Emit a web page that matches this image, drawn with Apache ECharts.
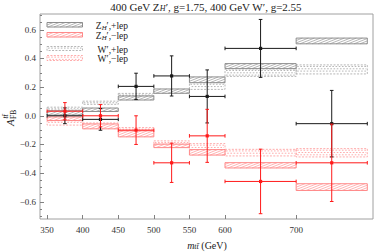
<!DOCTYPE html>
<html><head><meta charset="utf-8">
<script src="https://cdn.jsdelivr.net/npm/echarts@6/dist/echarts.min.js"></script>
<style>html,body{margin:0;padding:0;background:#fff}#c{width:374px;height:252px}</style>
</head><body><div id="c"></div>
<script>
// ---- data ----
const binLow    = [350, 400, 450, 500, 550, 600, 700];
const binHigh   = [400, 450, 500, 550, 600, 700, 800];
const binCenter = [375, 425, 475, 525, 575, 650, 750];

const zPlusLow   = [0.005, 0.030, 0.110, 0.157, 0.231, 0.329, 0.502];
const zPlusHigh  = [0.035, 0.054, 0.138, 0.187, 0.271, 0.364, 0.542];
const zMinusLow  = [-0.033, -0.091, -0.147, -0.222, -0.274, -0.364, -0.521];
const zMinusHigh = [-0.008, -0.057, -0.105, -0.198, -0.236, -0.327, -0.474];
const wPlusLow   = [0.040, 0.080, 0.138, 0.160, 0.184, 0.275, 0.292];
const wPlusHigh  = [0.060, 0.102, 0.156, 0.182, 0.231, 0.327, 0.355];
const wMinusLow  = [-0.065, -0.068, -0.105, -0.198, -0.236, -0.280, -0.287];
const wMinusHigh = [-0.035, -0.050, -0.082, -0.175, -0.194, -0.234, -0.229];

const blackValue = [0.000, -0.025, 0.205, 0.278, 0.135, 0.470, -0.055];
const blackError = [0.055, 0.076, 0.092, 0.140, 0.185, 0.202, 0.232];
const redValue   = [0.032, 0.000, -0.100, -0.328, -0.140, -0.458, -0.328];
const redError   = [0.060, 0.078, 0.100, 0.137, 0.185, 0.225, 0.270];

const xTickValues = [350, 400, 450, 500, 550, 600, 700];
const yTickValues = [-0.6, -0.4, -0.2, 0, 0.2, 0.4, 0.6];
const yMinorTickValues = [-0.7, -0.65, -0.55, -0.5, -0.45, -0.35, -0.3, -0.25, -0.15, -0.1, -0.05,
                          0.05, 0.1, 0.15, 0.25, 0.3, 0.35, 0.45, 0.5, 0.55, 0.65, 0.7];

// ---- styles ----
const SERIF = 'Liberation Serif';
const C = {
  zPlus: {stroke: '#808080', hatch: '#959595'},
  zMinus: {stroke: '#ff7a7a', hatch: '#ff9494'},
  wPlus: {stroke: '#a4a4a4'},
  wMinus: {stroke: '#ff9898'}
};

function hatchLines(x, y, w, h, step, slope, color) {
  const out = [];
  const start = Math.floor((x - h / slope) / step) * step;
  for (let x0 = start; x0 < x + w; x0 += step) {
    let ax = x0, ay = y + h, bx = x0 + h / slope, by = y;
    if (ax < x) { ay = ay - slope * (x - ax); ax = x; }
    if (bx > x + w) { by = by + slope * (bx - (x + w)); bx = x + w; }
    if (bx - ax > 0.3) out.push({type: 'line', shape: {x1: ax, y1: ay, x2: bx, y2: by},
      style: {stroke: color, lineWidth: 0.7}});
  }
  return out;
}
function dotFill(x, y, w, h, color) {
  const out = [];
  for (let yy = y + 1.6, r = 0; yy < y + h - 0.6; yy += 2.3, r++) {
    out.push({type: 'line', shape: {x1: x + 1, y1: yy, x2: x + w - 1, y2: yy},
      style: {stroke: color, lineWidth: 0.8, lineDash: [1.6, 1.6], lineDashOffset: r % 2 ? 1.6 : 0}});
  }
  return out;
}
function hatchBox(x, y, w, h, col) {
  return [{type: 'rect', shape: {x, y, width: w, height: h}, style: {fill: '#fff', stroke: col.stroke, lineWidth: 0.9}}]
    .concat(hatchLines(x, y, w, h, 6, 0.4, col.hatch));
}
function dotBox(x, y, w, h, col) {
  return [{type: 'rect', shape: {x, y, width: w, height: h},
    style: {fill: 'rgba(255,255,255,0)', stroke: col.stroke, lineWidth: 0.8, lineDash: [2, 1.4]}}]
    .concat(dotFill(x, y, w, h, col.stroke));
}

function bandSeries(name, low, high, kind, col) {
  return {
    type: 'custom', name, clip: true,
    data: binLow.map((lo, i) => [lo, binHigh[i], low[i], high[i]]),
    encode: {x: [0, 1], y: [2, 3]},
    renderItem: function (params, api) {
      const p0 = api.coord([api.value(0), api.value(3)]);
      const p1 = api.coord([api.value(1), api.value(2)]);
      const x = p0[0], y = p0[1], w = p1[0] - p0[0], h = p1[1] - p0[1];
      return {type: 'group', children: kind === 'hatch' ? hatchBox(x, y, w, h, col) : dotBox(x, y, w, h, col)};
    }
  };
}
function errorSeries(name, values, errors, color) {
  return {
    type: 'custom', name, clip: true,
    data: binCenter.map((c, i) => [c, values[i], binLow[i], binHigh[i], errors[i]]),
    encode: {x: 0, y: 1},
    renderItem: function (params, api) {
      const c = api.value(0), v = api.value(1), lo = api.value(2), hi = api.value(3), e = api.value(4);
      const pc = api.coord([c, v]);
      const pt = api.coord([c, v + e]);
      const pb = api.coord([c, v - e]);
      const pl = api.coord([lo, v]);
      const pr = api.coord([hi, v]);
      const st = {stroke: color, lineWidth: 1};
      const L = (x1, y1, x2, y2) => ({type: 'line', shape: {x1, y1, x2, y2}, style: st});
      return {type: 'group', children: [
        L(pc[0], pt[1], pc[0], pb[1]),
        L(pl[0], pc[1], pr[0], pc[1]),
        L(pc[0] - 1.8, pt[1], pc[0] + 1.8, pt[1]),
        L(pc[0] - 1.8, pb[1], pc[0] + 1.8, pb[1]),
        L(pl[0], pc[1] - 1.8, pl[0], pc[1] + 1.8),
        L(pr[0], pc[1] - 1.8, pr[0], pc[1] + 1.8),
        {type: 'rect', shape: {x: pc[0] - 1.6, y: pc[1] - 1.6, width: 3.2, height: 3.2}, style: {fill: color}}
      ]};
    }
  };
}

const richBase = {
  a: {fontFamily: SERIF, fontSize: 11, lineHeight: 11, padding: [0, 0, 2, 0], verticalAlign: 'top', fill: '#222'},
  i: {fontFamily: SERIF, fontSize: 11, fontStyle: 'italic', lineHeight: 11, padding: [0, 0, 2, 0], verticalAlign: 'top', fill: '#222'},
  sub: {fontFamily: SERIF, fontSize: 8, fontStyle: 'italic', lineHeight: 8, verticalAlign: 'bottom', fill: '#222'},
  isub: {fontFamily: SERIF, fontSize: 8, fontStyle: 'italic', lineHeight: 8, verticalAlign: 'bottom', fill: '#222'}
};
function legendRich(size) {
  return {
    a: {fontFamily: SERIF, fontSize: size, lineHeight: size, padding: [0, 0, 2, 0], verticalAlign: 'top', fill: '#222'},
    sub: {fontFamily: SERIF, fontSize: size * 0.72, fontStyle: 'italic', lineHeight: size * 0.72, verticalAlign: 'bottom', fill: '#222'}
  };
}

const legendItems = [
  {text: "{a|Z}{sub|H}{a|′,+lep}", y: 22.5, h: 4.5, kind: 'hatch', col: C.zPlus},
  {text: "{a|Z}{sub|H}{a|′,−lep}", y: 32.5, h: 4.5, kind: 'hatch', col: C.zMinus},
  {text: "{a|W′,+lep}", y: 46.5, h: 4, kind: 'dot', col: C.wPlus},
  {text: "{a|W′,−lep}", y: 55.5, h: 5, kind: 'dot', col: C.wMinus}
];
const graphics = [];
legendItems.forEach(it => {
  const kids = it.kind === 'hatch' ? hatchBox(47, it.y, 35.5, it.h, it.col) : dotBox(47, it.y, 35.5, it.h, it.col);
  graphics.push({type: 'group', z: 100, children: kids});
  graphics.push({type: 'text', z: 100, style: {x: 128, y: it.y + it.h / 2 + 1, text: it.text, rich: legendRich(9.5),
    align: 'right', verticalAlign: 'middle'}});
});
graphics.push({type: 'text', z: 100, style: {x: 206, y: 7, text: "{a|400 GeV Z}{sub|H}{a|′, g=1.75, 400 GeV W′, g=2.55}",
  rich: richBase, align: 'center', verticalAlign: 'middle'}});
graphics.push({type: 'text', z: 100, style: {x: 207, y: 245, text: "{i|m}{isub|tt̄}{a| (GeV)}",
  rich: {a: Object.assign({}, richBase.a, {fontSize: 10, lineHeight: 10}), i: Object.assign({}, richBase.i, {fontSize: 10, lineHeight: 10}), isub: richBase.isub},
  align: 'center', verticalAlign: 'middle'}});
// y-axis title, rotated: A with stacked FB subscript and tt̄ superscript
graphics.push({type: 'group', z: 100, x: 0, y: 118, rotation: Math.PI / 2, children: [
  {type: 'text', style: {x: -8, y: 9.5, text: 'A', fontFamily: SERIF, fontSize: 11, fontStyle: 'italic', fill: '#222', align: 'left', verticalAlign: 'middle'}},
  {type: 'text', style: {x: -1, y: 13, text: 'FB', fontFamily: SERIF, fontSize: 7.5, fill: '#222', align: 'left', verticalAlign: 'middle'}},
  {type: 'text', style: {x: -0.5, y: 5, text: 'tt̄', fontFamily: SERIF, fontSize: 7.5, fontStyle: 'italic', fill: '#222', align: 'left', verticalAlign: 'middle'}}
]});

const fmtY = v => (v < -1e-9 ? '−' + Math.abs(v).toFixed(1) : Math.abs(v).toFixed(1));

const chart = echarts.init(document.getElementById('c'), null, {renderer: 'svg'});
chart.setOption({
  animation: false,
  backgroundColor: '#fff',
  grid: {left: 40, top: 14, width: 333, height: 205, show: true, borderColor: '#a0a0a0', borderWidth: 1, backgroundColor: 'transparent'},
  xAxis: {
    type: 'value', min: 340, max: 808,
    axisLine: {show: false, onZero: false}, splitLine: {show: false},
    axisTick: {inside: true, length: 4, customValues: xTickValues, lineStyle: {color: '#808080'}},
    axisLabel: {customValues: xTickValues, fontFamily: SERIF, fontSize: 9, color: '#333', margin: 6}
  },
  yAxis: [{
    type: 'value', min: -0.72, max: 0.71,
    axisLine: {show: false, onZero: false}, splitLine: {show: false},
    axisTick: {inside: true, length: 4, customValues: yTickValues, lineStyle: {color: '#808080'}},
    axisLabel: {customValues: yTickValues, formatter: fmtY, fontFamily: SERIF, fontSize: 9, color: '#333', margin: 4}
  }, {
    type: 'value', min: -0.72, max: 0.71, position: 'left',
    axisLine: {show: false, onZero: false}, splitLine: {show: false},
    axisTick: {inside: true, length: 2, customValues: yMinorTickValues, lineStyle: {color: '#808080'}},
    axisLabel: {show: false}
  }],
  series: [
    bandSeries("W′,+lep", wPlusLow, wPlusHigh, 'dot', C.wPlus),
    bandSeries("W′,−lep", wMinusLow, wMinusHigh, 'dot', C.wMinus),
    bandSeries("Z_H′,+lep", zPlusLow, zPlusHigh, 'hatch', C.zPlus),
    bandSeries("Z_H′,−lep", zMinusLow, zMinusHigh, 'hatch', C.zMinus),
    errorSeries("+lep data", blackValue, blackError, '#1a1a1a'),
    errorSeries("−lep data", redValue, redError, '#ff1a1a')
  ],
  graphic: graphics
});
</script></body></html>
